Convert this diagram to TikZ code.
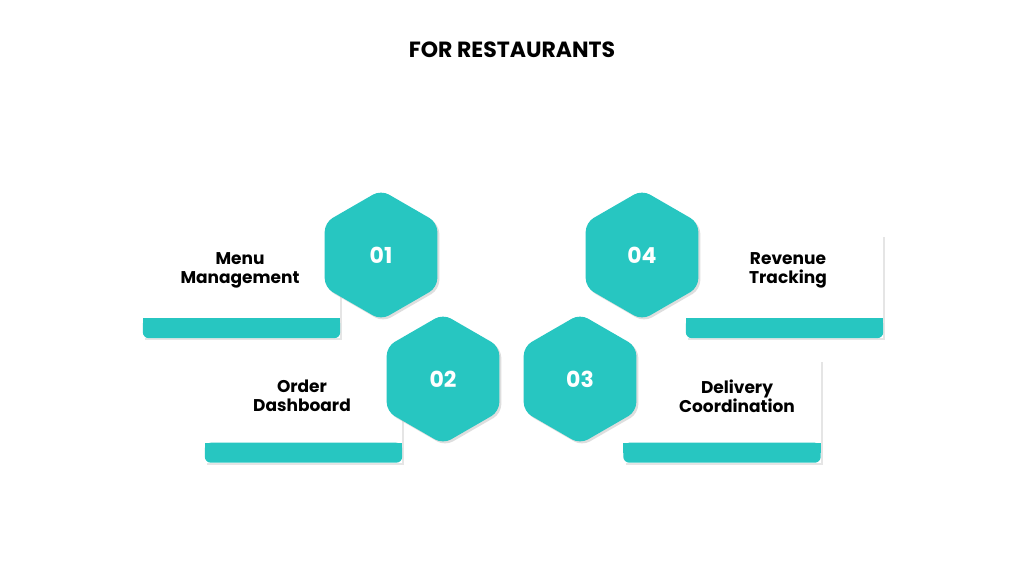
\documentclass[tikz,border=0pt]{standalone}
\usepackage{fontspec}
\setmainfont{Poppins}
\usetikzlibrary{shapes.geometric,shadows}
\definecolor{teal1}{HTML}{27C6C1}
\tikzset{
  hexa/.style={regular polygon, regular polygon sides=6, shape border rotate=30,
    minimum size=130pt, inner sep=0pt, fill=teal1, rounded corners=9pt,
    drop shadow={shadow xshift=2pt, shadow yshift=-2pt, fill=black!25},
    text=white, font=\fontsize{22}{24}\selectfont\bfseries},
  cardbox/.style={fill=white, minimum width=197pt, minimum height=103pt, inner sep=0pt,
    drop shadow={shadow xshift=2pt, shadow yshift=-2pt, fill=black!20}},
  cardlabel/.style={align=center, font=\fontsize{17}{19}\selectfont\bfseries, text=black},
}
\begin{document}
\begin{tikzpicture}[x=1pt,y=-1pt]
  \useasboundingbox (0,0) rectangle (1024,576);
  \fill[white] (0,0) rectangle (1024,576);
  % Title
  \node[font=\fontsize{22}{24}\selectfont\bfseries] (title) at (512,50) {FOR RESTAURANTS};

  % Cards
  \node[cardbox] (c1) at (241.5,286.5) {};
  \node[cardbox] (c2) at (303.5,411) {};
  \node[cardbox] (c3) at (722,411) {};
  \node[cardbox] (c4) at (784.5,286.5) {};
  \foreach \c in {c1,c2,c3,c4}{
    \fill[teal1, rounded corners=6pt] (\c.south west) rectangle ([yshift=20pt]\c.south east);
    \fill[teal1] ([yshift=10pt]\c.south west) rectangle ([yshift=20pt]\c.south east);
  }

  % Card texts
  \node[cardlabel] (t1) at (240,270) {Menu\\Management};
  \node[cardlabel] (t2) at (302,396) {Order\\Dashboard};
  \node[cardlabel] (t3) at (737,396) {Delivery\\Coordination};
  \node[cardlabel] (t4) at (788,270) {Revenue\\Tracking};

  % Hexagons
  \node[hexa] (h1) at (381,255) {01};
  \node[hexa] (h2) at (443,379) {02};
  \node[hexa] (h3) at (580,379) {03};
  \node[hexa] (h4) at (642,255) {04};
\end{tikzpicture}
\end{document}
